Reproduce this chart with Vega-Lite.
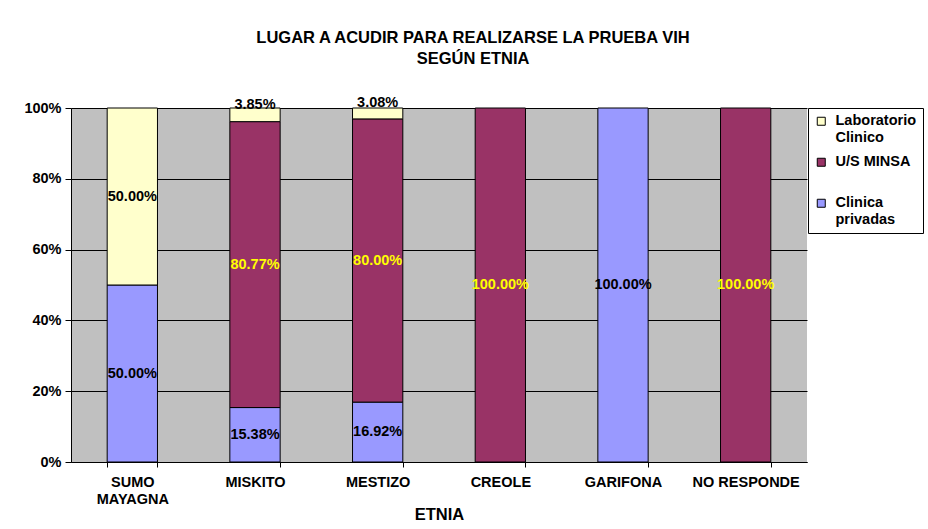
{
  "$schema": "https://vega.github.io/schema/vega-lite/v6.json",
  "width": 736,
  "height": 354,
  "autosize": {"type": "none"},
  "padding": {"left": 71, "top": 108, "right": 121, "bottom": 67},
  "background": "white",
  "title": {
    "text": ["LUGAR A ACUDIR PARA REALIZARSE LA PRUEBA VIH", "SEGÚN ETNIA"],
    "font": "Liberation Sans",
    "fontSize": 16.5,
    "fontWeight": "bold",
    "lineHeight": 21,
    "anchor": "middle",
    "frame": "group",
    "dx": 34,
    "offset": 28,
    "color": "black"
  },
  "data": {
    "values": [
      {"etnia": "SUMO MAYAGNA", "serie": "Clinica privadas", "ord": 1, "value": 0.5},
      {"etnia": "SUMO MAYAGNA", "serie": "Laboratorio Clinico", "ord": 3, "value": 0.5},
      {"etnia": "MISKITO", "serie": "Clinica privadas", "ord": 1, "value": 0.1538},
      {"etnia": "MISKITO", "serie": "U/S MINSA", "ord": 2, "value": 0.8077},
      {"etnia": "MISKITO", "serie": "Laboratorio Clinico", "ord": 3, "value": 0.0385},
      {"etnia": "MESTIZO", "serie": "Clinica privadas", "ord": 1, "value": 0.1692},
      {"etnia": "MESTIZO", "serie": "U/S MINSA", "ord": 2, "value": 0.8},
      {"etnia": "MESTIZO", "serie": "Laboratorio Clinico", "ord": 3, "value": 0.0308},
      {"etnia": "CREOLE", "serie": "U/S MINSA", "ord": 2, "value": 1.0},
      {"etnia": "GARIFONA", "serie": "Clinica privadas", "ord": 1, "value": 1.0},
      {"etnia": "NO RESPONDE", "serie": "U/S MINSA", "ord": 2, "value": 1.0}
    ]
  },
  "encoding": {
    "x": {
      "field": "etnia",
      "type": "nominal",
      "sort": ["SUMO MAYAGNA", "MISKITO", "MESTIZO", "CREOLE", "GARIFONA", "NO RESPONDE"],
      "scale": {"paddingInner": 0.59, "paddingOuter": 0.295},
      "axis": {
        "title": "ETNIA",
        "titleFont": "Liberation Sans",
        "titleFontSize": 16.5,
        "titleFontWeight": "bold",
        "titleColor": "black",
        "titlePadding": 1,
        "labelAngle": 0,
        "tickBand": "extent",
        "labelExpr": "datum.label == 'SUMO MAYAGNA' ? ['SUMO', 'MAYAGNA'] : datum.label",
        "labelFont": "Liberation Sans",
        "labelFontSize": 14.5,
        "labelFontWeight": "bold",
        "labelColor": "black",
        "labelLineHeight": 17,
        "labelPadding": 8,
        "tickSize": 5,
        "tickColor": "black",
        "domainColor": "black",
        "grid": false
      }
    }
  },
  "layer": [
    {
      "mark": {"type": "bar", "stroke": "black", "strokeWidth": 1},
      "encoding": {
        "y": {
          "field": "value",
          "type": "quantitative",
          "stack": "zero",
          "scale": {"domain": [0, 1]},
          "axis": {
            "title": null,
            "format": ".0%",
            "values": [0, 0.2, 0.4, 0.6, 0.8, 1],
            "grid": true,
            "gridColor": "black",
            "gridOpacity": 1,
            "tickColor": "black",
            "tickSize": 6,
            "domainColor": "black",
            "labelFont": "Liberation Sans",
            "labelFontSize": 14.5,
            "labelFontWeight": "bold",
            "labelColor": "black",
            "labelPadding": 4
          }
        },
        "color": {
          "field": "serie",
          "type": "nominal",
          "scale": {
            "domain": ["Laboratorio Clinico", "U/S MINSA", "Clinica privadas"],
            "range": ["#FFFFCC", "#993366", "#9999FF"]
          },
          "legend": {
            "title": null,
            "orient": "none",
            "legendX": 737,
            "legendY": 0,
            "strokeColor": "black",
            "fillColor": "white",
            "padding": 6,
            "symbolType": "square",
            "symbolSize": 64,
            "symbolStrokeColor": "black",
            "symbolStrokeWidth": 1,
            "labelOffset": 7,
            "labelFont": "Liberation Sans",
            "labelFontSize": 14.5,
            "labelFontWeight": "bold",
            "labelColor": "black",
            "labelExpr": "datum.label == 'Laboratorio Clinico' ? ['Laboratorio', 'Clinico'] : datum.label == 'Clinica privadas' ? ['Clinica', 'privadas'] : ['U/S MINSA', ' ']",
            "rowPadding": 9
          }
        },
        "order": {"field": "ord", "type": "quantitative"}
      }
    },
    {
      "transform": [
        {"stack": "value", "groupby": ["etnia"], "sort": [{"field": "ord"}], "as": ["v0", "v1"]},
        {"calculate": "(datum.v0 + datum.v1) / 2", "as": "mid"}
      ],
      "encoding": {
        "y": {"field": "mid", "type": "quantitative"},
        "text": {"field": "value", "type": "quantitative", "format": ".2%"},
        "color": {
          "condition": {"test": "datum.serie == 'U/S MINSA'", "value": "#FFFF00"},
          "value": "black"
        }
      },
      "layer": [
        {
          "transform": [{"filter": "datum.value >= 0.1"}],
          "mark": {"type": "text", "font": "Liberation Sans", "fontSize": 14.5, "fontWeight": "bold"}
        },
        {
          "transform": [{"filter": "datum.value < 0.1"}],
          "mark": {"type": "text", "font": "Liberation Sans", "fontSize": 14.5, "fontWeight": "bold", "dy": -10}
        }
      ]
    }
  ],
  "config": {
    "view": {"fill": "#C0C0C0", "stroke": null}
  }
}
